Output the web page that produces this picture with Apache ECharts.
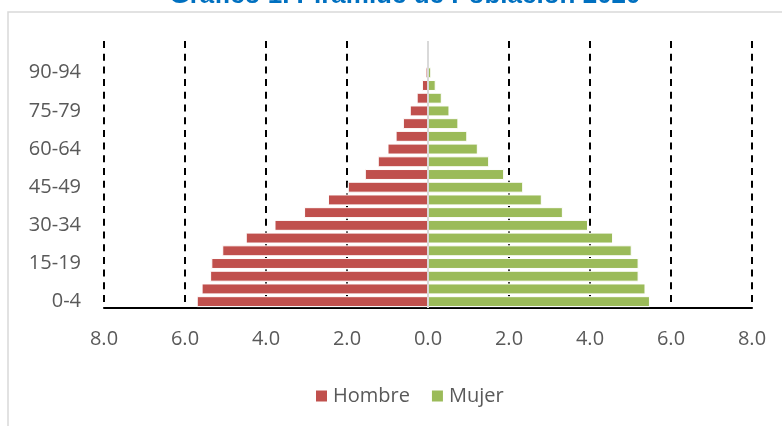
<!DOCTYPE html>
<html>
<head>
<meta charset="utf-8">
<script src="https://cdn.jsdelivr.net/npm/echarts@6/dist/echarts.min.js"></script>
<style>
  html, body { margin: 0; padding: 0; background: #fff; }
  #chart { width: 782px; height: 426px; }
</style>
</head>
<body>
<div id="chart"></div>
<script>
// grupos de edad, de abajo hacia arriba
const ageGroups = ['0-4', '5-9', '10-14', '15-19', '20-24', '25-29', '30-34', '35-39', '40-44', '45-49',
  '50-54', '55-59', '60-64', '65-69', '70-74', '75-79', '80-84', '85-89', '90-94', '95-99', '100+']
// porcentaje de la poblacion
const hombre = [5.71, 5.59, 5.38, 5.35, 5.08, 4.50, 3.79, 3.06, 2.47, 1.98,
  1.56, 1.24, 1.00, 0.80, 0.62, 0.45, 0.28, 0.15, 0.06, 0.02, 0.01]
const mujer = [5.48, 5.37, 5.20, 5.20, 5.03, 4.57, 3.95, 3.33, 2.81, 2.35,
  1.88, 1.51, 1.23, 0.97, 0.75, 0.53, 0.34, 0.19, 0.08, 0.03, 0.01]
const xTicks = [-8, -6, -4, -2, 0, 2, 4, 6, 8]

const myChart = echarts.init(document.getElementById('chart'))
const font = '"Open Sans", "Noto Sans", sans-serif'

const option = {
  animation: false,
  textStyle: { fontFamily: font },
  graphic: [
    {
      type: 'rect',
      shape: { x: 8, y: 12, width: 900, height: 500 },
      style: { fill: 'none', stroke: '#d9d9d9', lineWidth: 1.5 },
      silent: true
    },
    {
      type: 'text',
      style: {
        text: 'Gráfico 1. Pirámide de Población 2020',
        x: 405,
        y: -4,
        align: 'center',
        verticalAlign: 'middle',
        fill: '#0070C0',
        font: 'bold 26px "Liberation Sans", Arial, sans-serif'
      },
      silent: true
    }
  ],
  legend: {
    data: ['Hombre', 'Mujer'],
    left: 309,
    top: 381,
    itemWidth: 13,
    itemHeight: 13,
    itemGap: 20,
    icon: 'rect',
    textStyle: { fontSize: 20, color: '#595959', fontFamily: font }
  },
  grid: {
    left: 104,
    right: 30,
    top: 41,
    bottom: 118
  },
  xAxis: {
    type: 'value',
    min: xTicks[0],
    max: xTicks[xTicks.length - 1],
    interval: 2,
    axisLine: { show: true, lineStyle: { color: '#000', width: 2 } },
    axisTick: { show: false },
    axisLabel: {
      margin: 21,
      fontSize: 20,
      color: '#595959',
      formatter: v => Math.abs(v).toFixed(1)
    },
    splitLine: {
      show: true,
      lineStyle: { color: '#000', width: 2, type: [7, 5.7] }
    }
  },
  yAxis: {
    type: 'category',
    data: ageGroups,
    axisLine: { show: false },
    axisTick: { show: false },
    axisLabel: {
      interval: 2,
      margin: 23,
      fontSize: 20,
      color: '#595959'
    }
  },
  series: [
    {
      name: 'Hombre',
      type: 'bar',
      stack: 'pop',
      barCategoryGap: '14%',
      itemStyle: { color: '#C0504D', borderColor: '#fff', borderWidth: 1 },
      data: hombre.map(v => -v)
    },
    {
      name: 'Mujer',
      type: 'bar',
      stack: 'pop',
      barCategoryGap: '14%',
      itemStyle: { color: '#9BBB59', borderColor: '#fff', borderWidth: 1 },
      data: mujer,
      markLine: {
        silent: true,
        symbol: 'none',
        label: { show: false },
        lineStyle: { color: '#d9d9d9', width: 2, type: 'solid' },
        data: [{ xAxis: 0 }]
      }
    }
  ]
}

myChart.setOption(option)
</script>
</body>
</html>
